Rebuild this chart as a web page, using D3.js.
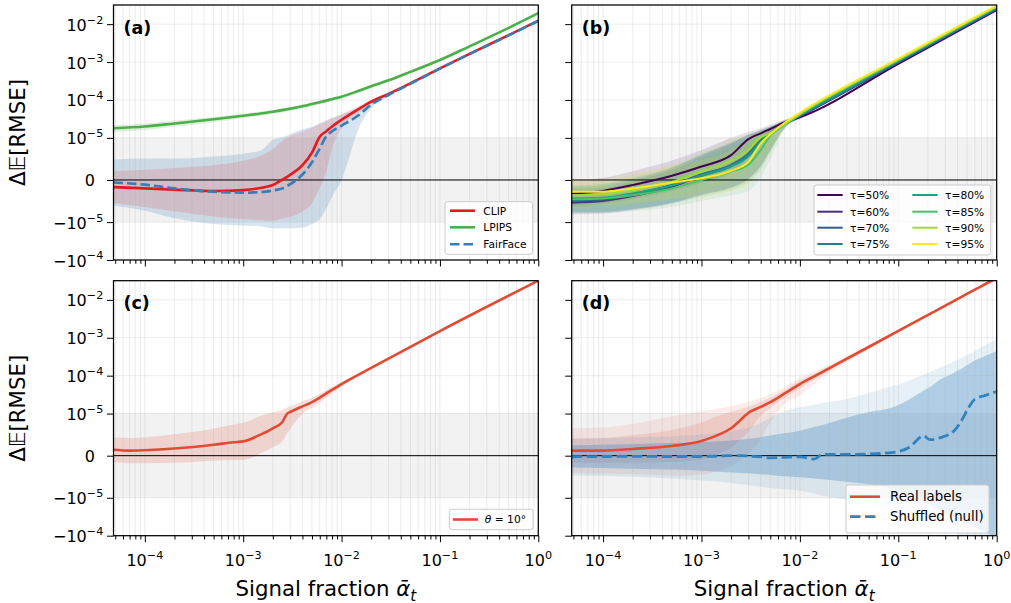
<!DOCTYPE html>
<html>
<head>
<meta charset="utf-8">
<script src="https://cdn.jsdelivr.net/npm/d3@7"></script>
<style>
  body { margin: 0; background: #fff; }
  svg text { font-family: "DejaVu Sans", sans-serif; fill: #000; }
</style>
</head>
<body>
<script>
// ---------- data ----------
var xDomain = [4.8e-5, 1];
var yDomain = [-1e-4, 3.2e-2];
var yTicks = [1e-2, 1e-3, 1e-4, 1e-5, 0, -1e-5, -1e-4];
var xMajorTicks = [1e-4, 1e-3, 1e-2, 1e-1, 1];

// (a) embedding models
var xsA = [4.8e-5, 1e-4, 2e-4, 5e-4, 1e-3, 1.5e-3, 2e-3, 2.5e-3, 3e-3, 4e-3, 5e-3, 6e-3, 7e-3, 8e-3, 1e-2, 1.5e-2, 2e-2, 3e-2, 5e-2, 0.1, 0.2, 0.5, 1];
var clipMean = [-1.7e-6, -2.0e-6, -2.3e-6, -2.6e-6, -2.4e-6, -1.9e-6, -1.2e-6, 1e-7, 1.2e-6, 3.5e-6, 6.5e-6, 1.07e-5, 1.5e-5, 2.0e-5, 3.0e-5, 5.8e-5, 9.0e-5, 1.45e-4, 2.75e-4, 6.8e-4, 1.65e-3, 5.15e-3, 1.23e-2];
var clipSd = [3.75e-6, 4.4e-6, 5.15e-6, 6.1e-6, 6.95e-6, 7.65e-6, 8.5e-6, 9.25e-6, 1.0e-5, 1.1e-5, 1.2e-5, 1.25e-5, 1.3e-5, 1.25e-5, 1.2e-5, 1.2e-5, 1.0e-5, 1.2e-5, 1.5e-5, 2.5e-5, 5.5e-5, 1.5e-4, 4e-4];
var lpipsMean = [1.8e-5, 2.0e-5, 2.4e-5, 3.1e-5, 3.85e-5, 4.4e-5, 4.9e-5, 5.4e-5, 5.9e-5, 6.8e-5, 7.8e-5, 8.7e-5, 9.6e-5, 1.05e-4, 1.22e-4, 1.75e-4, 2.3e-4, 3.3e-4, 5.5e-4, 1.13e-3, 2.6e-3, 8.0e-3, 1.95e-2];
var lpipsSd = [3.7e-6, 4e-6, 4.5e-6, 5e-6, 5.5e-6, 6e-6, 6.5e-6, 7e-6, 7.5e-6, 8.5e-6, 9.5e-6, 1.05e-5, 1.15e-5, 1.25e-5, 1.4e-5, 1.8e-5, 2.2e-5, 2.8e-5, 4e-5, 6e-5, 1e-4, 2e-4, 4e-4];
var fairMean = [-6e-7, -1.1e-6, -2.0e-6, -2.8e-6, -3.0e-6, -2.9e-6, -2.5e-6, -2.0e-6, -1.0e-6, 1.3e-6, 4.2e-6, 7.5e-6, 1.1e-5, 1.5e-5, 2.1e-5, 4.0e-5, 7.5e-5, 1.35e-4, 2.65e-4, 6.7e-4, 1.62e-3, 5.05e-3, 1.21e-2];
var fairSd = [5.45e-6, 6.2e-6, 7.1e-6, 8.4e-6, 9.25e-6, 9.9e-6, 1.2e-5, 1.25e-5, 1.35e-5, 1.55e-5, 1.55e-5, 1.68e-5, 1.78e-5, 1.9e-5, 2.1e-5, 2.2e-5, 1.5e-5, 1.2e-5, 1.5e-5, 3e-5, 7e-5, 2e-4, 5e-4];

// (b) threshold sweep
var xsB = [4.8e-5, 1e-4, 2e-4, 5e-4, 1e-3, 2e-3, 3e-3, 4e-3, 5e-3, 7e-3, 1e-2, 0.1, 1];
var tauLabels = ["τ=50%", "τ=60%", "τ=70%", "τ=75%", "τ=80%", "τ=85%", "τ=90%", "τ=95%"];
var tau50Mean = [-3.2e-6, -2.6e-6, -1.2e-6, 1.0e-6, 3.2e-6, 5.9e-6, 9.7e-6, 1.32e-5, 1.71e-5, 2.6e-5, 3.5e-5, 9.0e-4, 2.35e-2];
var tau60Mean = [-5.4e-6, -5.0e-6, -3.8e-6, -1.6e-6, 1.0e-6, 3.4e-6, 6.0e-6, 9.5e-6, 1.3e-5, 2.3e-5, 3.7e-5, 9.6e-4, 2.45e-2];
var tau70Mean = [-5.0e-6, -4.7e-6, -3.5e-6, -1.3e-6, 1.3e-6, 3.6e-6, 6.3e-6, 9.8e-6, 1.35e-5, 2.35e-5, 3.8e-5, 1.0e-3, 2.55e-2];
var tau75Mean = [-4.7e-6, -4.4e-6, -3.3e-6, -1.2e-6, 1.3e-6, 3.5e-6, 6.2e-6, 9.6e-6, 1.35e-5, 2.4e-5, 3.9e-5, 1.04e-3, 2.65e-2];
var tau80Mean = [-4.4e-6, -4.2e-6, -3.2e-6, -1.3e-6, 1.0e-6, 3.2e-6, 5.6e-6, 9.0e-6, 1.3e-5, 2.35e-5, 4.0e-5, 1.08e-3, 2.75e-2];
var tau85Mean = [-4.6e-6, -4.4e-6, -3.6e-6, -2.0e-6, 0, 2.0e-6, 3.6e-6, 7.1e-6, 1.15e-5, 2.2e-5, 4.1e-5, 1.12e-3, 2.85e-2];
var tau90Mean = [-3.6e-6, -3.4e-6, -2.4e-6, -5e-7, 2.0e-6, 4.6e-6, 7.1e-6, 1.02e-5, 1.35e-5, 2.3e-5, 4.3e-5, 1.18e-3, 2.95e-2];
var tau95Mean = [-2.8e-6, -2.8e-6, -2.0e-6, -6e-7, 4e-7, 2.2e-6, 4.3e-6, 8.7e-6, 1.25e-5, 2.5e-5, 4.6e-5, 1.24e-3, 3.1e-2];
var tau50Sd = [3.0e-6, 3.1e-6, 3.3e-6, 3.6e-6, 3.9e-6, 4.2e-6, 4.5e-6, 4.8e-6, 5.0e-6, 4.5e-6, 4e-6, 3e-5, 5e-4];
var tau60Sd = [2.8e-6, 3.0e-6, 3.4e-6, 4.0e-6, 4.6e-6, 5.2e-6, 5.8e-6, 6.2e-6, 6.2e-6, 5.0e-6, 4e-6, 3e-5, 5e-4];
var tau70Sd = [2.9e-6, 3.1e-6, 3.5e-6, 4.1e-6, 4.7e-6, 5.3e-6, 5.9e-6, 6.3e-6, 6.3e-6, 5.2e-6, 4e-6, 3e-5, 5e-4];
var tau75Sd = [3.0e-6, 3.2e-6, 3.6e-6, 4.2e-6, 4.8e-6, 5.4e-6, 6.0e-6, 6.4e-6, 6.4e-6, 5.2e-6, 4e-6, 3e-5, 5e-4];
var tau80Sd = [3.1e-6, 3.3e-6, 3.7e-6, 4.3e-6, 4.9e-6, 5.5e-6, 6.1e-6, 6.5e-6, 6.5e-6, 5.3e-6, 4e-6, 3e-5, 5e-4];
var tau85Sd = [3.2e-6, 3.4e-6, 3.8e-6, 4.4e-6, 5.0e-6, 5.6e-6, 6.2e-6, 6.6e-6, 6.6e-6, 5.4e-6, 4e-6, 3e-5, 5e-4];
var tau90Sd = [3.1e-6, 3.3e-6, 3.6e-6, 4.1e-6, 4.6e-6, 5.1e-6, 5.6e-6, 6.0e-6, 6.0e-6, 5.0e-6, 4e-6, 3e-5, 5e-4];
var tau95Sd = [3.0e-6, 3.2e-6, 3.5e-6, 3.9e-6, 4.4e-6, 4.9e-6, 5.4e-6, 5.8e-6, 5.8e-6, 4.8e-6, 4e-6, 3e-5, 5e-4];

// (c) theta = 10 deg
var xsC = [4.8e-5, 7e-5, 1e-4, 2e-4, 5e-4, 8e-4, 1e-3, 1.5e-3, 2e-3, 2.5e-3, 2.8e-3, 3e-3, 4e-3, 5e-3, 7e-3, 1e-2, 2e-2, 0.1, 1];
var thetaMean = [1.4e-6, 1.2e-6, 1.3e-6, 1.7e-6, 2.6e-6, 3.2e-6, 3.4e-6, 5.0e-6, 6.5e-6, 8.0e-6, 1.0e-5, 1.1e-5, 1.55e-5, 2.0e-5, 3.4e-5, 6.0e-5, 1.6e-4, 1.5e-3, 3.2e-2];
var thetaSd = [2.9e-6, 3.0e-6, 3.1e-6, 3.4e-6, 3.8e-6, 4.2e-6, 4.4e-6, 4.4e-6, 4.5e-6, 4.6e-6, 4.7e-6, 4.7e-6, 5.5e-6, 6e-6, 8e-6, 8e-6, 1e-5, 5e-5, 5e-4];

// (d) real vs shuffled labels
var xsD = [4.8e-5, 1e-4, 2e-4, 5e-4, 1e-3, 1.5e-3, 2e-3, 2.5e-3, 3e-3, 4e-3, 5e-3, 7e-3, 1e-2, 1.4e-2, 1.7e-2, 2.5e-2, 5e-2, 9e-2, 0.13, 0.18, 0.21, 0.27, 0.37, 0.43, 0.52, 0.6, 0.76, 1];
var realMean = [1.2e-6, 1.2e-6, 1.6e-6, 2.3e-6, 3.5e-6, 5.0e-6, 6.5e-6, 8.5e-6, 1.05e-5, 1.5e-5, 2.0e-5, 3.4e-5, 6.0e-5, 9.6e-5, 1.26e-4, 2.16e-4, 5.7e-4, 1.3e-3, 2.18e-3, 3.43e-3, 4.25e-3, 6.05e-3, 9.4e-3, 1.16e-2, 1.52e-2, 1.85e-2, 2.58e-2, 3.79e-2];
var realSdInner = [2.9e-6, 3.0e-6, 3.3e-6, 3.8e-6, 4.4e-6, 4.5e-6, 4.6e-6, 4.7e-6, 4.8e-6, 5.5e-6, 6e-6, 8e-6, 1.5e-5, 1.7e-5, 2e-5, 2.5e-5, 4e-5, 7e-5, 1e-4, 1.4e-4, 1.7e-4, 2.2e-4, 3.2e-4, 4e-4, 5e-4, 6e-4, 8e-4, 1.2e-3];
var realSdOuter = [5.3e-6, 5.5e-6, 6e-6, 7e-6, 8e-6, 8.5e-6, 9e-6, 9.5e-6, 1e-5, 1.1e-5, 1.2e-5, 1.6e-5, 3e-5, 3.5e-5, 4e-5, 5e-5, 8e-5, 1.4e-4, 2e-4, 2.8e-4, 3.4e-4, 4.4e-4, 6.4e-4, 8e-4, 1e-3, 1.2e-3, 1.6e-3, 2.4e-3];
var shufMean = [-2.5e-7, -2e-7, -1.5e-7, -2e-7, -2e-7, -1e-7, 0, 0, -1e-7, -3e-7, -5e-7, -4e-7, -3e-7, -8e-7, 3e-7, 3e-7, 4e-7, 8e-7, 2e-6, 4.7e-6, 3.8e-6, 4.3e-6, 5.9e-6, 8e-6, 1.45e-5, 2.4e-5, 3e-5, 3.8e-5];
var shufInnerHi = [2.5e-6, 2.6e-6, 2.8e-6, 3e-6, 3.2e-6, 3.4e-6, 3.6e-6, 3.8e-6, 4e-6, 4.4e-6, 4.8e-6, 5.3e-6, 5.9e-6, 6.8e-6, 7.3e-6, 8.5e-6, 1.1e-5, 1.5e-5, 2.4e-5, 4e-5, 5e-5, 8e-5, 1.2e-4, 1.5e-4, 2e-4, 2.5e-4, 3.3e-4, 4.5e-4];
var shufInnerLo = [-2.8e-6, -2.9e-6, -3.1e-6, -3.3e-6, -3.6e-6, -3.8e-6, -4e-6, -4.1e-6, -4.2e-6, -4.4e-6, -4.6e-6, -4.9e-6, -5.1e-6, -5.4e-6, -5.6e-6, -6e-6, -6.8e-6, -8e-6, -1e-5, -1.3e-5, -1.5e-5, -2.2e-5, -3.2e-5, -4e-5, -5e-5, -6e-5, -8e-5, -1.2e-4];
var shufOuterHi = [4e-6, 4.1e-6, 4.3e-6, 4.6e-6, 5e-6, 5.4e-6, 5.8e-6, 6.3e-6, 6.7e-6, 7.8e-6, 9e-6, 1.15e-5, 1.46e-5, 1.7e-5, 1.9e-5, 2.2e-5, 3.5e-5, 5.5e-5, 7.5e-5, 1.05e-4, 1.25e-4, 1.65e-4, 2.4e-4, 2.9e-4, 3.6e-4, 4.5e-4, 6.3e-4, 9.2e-4];
var shufOuterLo = [-4.7e-6, -4.8e-6, -5e-6, -5.4e-6, -5.9e-6, -6.2e-6, -6.5e-6, -6.8e-6, -7e-6, -7.4e-6, -7.7e-6, -8e-6, -8.3e-6, -9e-6, -9.5e-6, -1.05e-5, -1.4e-5, -2e-5, -2.8e-5, -4e-5, -4.8e-5, -6e-5, -8e-5, -1e-4, -1.2e-4, -1.5e-4, -2e-4, -2.5e-4];

// ---------- layout ----------
var W = 1011, H = 603;
var boxes = {
  a: {left: 113.5, right: 538.3, top: 5, bottom: 260},
  b: {left: 571.7, right: 996.7, top: 5, bottom: 260},
  c: {left: 113.5, right: 538.3, top: 280.7, bottom: 535.7},
  d: {left: 571.7, right: 996.7, top: 280.7, bottom: 535.7}
};

var LINTHRESH = 1e-5;
// matplotlib style symlog (linscale 1, base 10)
function symlog(v) {
  var a = Math.abs(v), adj = 1 / (1 - 1 / 10);
  if (a <= LINTHRESH) return v / LINTHRESH * adj;
  return Math.sign(v) * (adj + Math.log10(a / LINTHRESH));
}
function isMajor(t) {
  var l = Math.log10(t);
  return Math.abs(l - Math.round(l)) < 1e-9;
}

var svg = d3.select("body").append("svg").attr("width", W).attr("height", H);

function makePanel(key) {
  var b = boxes[key];
  var x = d3.scaleLog().domain(xDomain).range([b.left, b.right]);
  var ys = d3.scaleLinear().domain([symlog(yDomain[0]), symlog(yDomain[1])]).range([b.bottom, b.top]);
  var y = function (v) { return ys(symlog(v)); };
  var g = svg.append("g");
  g.append("clipPath").attr("id", "clip-" + key).append("rect")
    .attr("x", b.left).attr("y", b.top).attr("width", b.right - b.left).attr("height", b.bottom - b.top);
  var inner = g.append("g").attr("clip-path", "url(#clip-" + key + ")");

  // grey region |dE| < linthresh
  inner.append("rect")
    .attr("x", b.left).attr("width", b.right - b.left)
    .attr("y", y(1e-5)).attr("height", y(-1e-5) - y(1e-5))
    .attr("fill", "#808080").attr("fill-opacity", 0.1);

  var bands = inner.append("g");
  var grid = inner.append("g");
  var lines = inner.append("g");

  x.ticks().forEach(function (t) {
    grid.append("line").attr("x1", x(t)).attr("x2", x(t)).attr("y1", b.top).attr("y2", b.bottom)
      .attr("stroke", "#b0b0b0").attr("stroke-opacity", 0.3).attr("stroke-width", 0.8);
  });
  yTicks.forEach(function (t) {
    grid.append("line").attr("x1", b.left).attr("x2", b.right).attr("y1", y(t)).attr("y2", y(t))
      .attr("stroke", "#b0b0b0").attr("stroke-opacity", 0.3).attr("stroke-width", 0.8);
  });
  lines.append("line").attr("x1", b.left).attr("x2", b.right).attr("y1", y(0)).attr("y2", y(0))
    .attr("stroke", "#000").attr("stroke-width", 1);

  return {key: key, b: b, x: x, ys: ys, y: y, g: g, bands: bands, lines: lines};
}

function addBand(p, xs, lo, hi, color, alpha) {
  var area = d3.area().curve(d3.curveMonotoneX)
    .x(function (d) { return p.x(d[0]); })
    .y0(function (d) { return p.y(d[1]); })
    .y1(function (d) { return p.y(d[2]); });
  p.bands.append("path").datum(d3.zip(xs, lo, hi)).attr("d", area)
    .attr("fill", color).attr("fill-opacity", alpha).attr("stroke", "none");
}
function addSdBand(p, xs, mean, sd, color, alpha) {
  var lo = mean.map(function (m, i) { return m - sd[i]; });
  var hi = mean.map(function (m, i) { return m + sd[i]; });
  addBand(p, xs, lo, hi, color, alpha);
}
function addLine(p, xs, vals, color, width, dash) {
  var line = d3.line().curve(d3.curveMonotoneX)
    .x(function (d) { return p.x(d[0]); })
    .y(function (d) { return p.y(d[1]); });
  p.lines.append("path").datum(d3.zip(xs, vals)).attr("d", line)
    .attr("fill", "none").attr("stroke", color).attr("stroke-width", width)
    .attr("stroke-dasharray", dash || null).attr("stroke-linejoin", "round");
}

function powText(sel, prefix, exp, size) {
  sel.append("tspan").text(prefix + "10");
  sel.append("tspan").attr("dy", -0.44 * size).attr("font-size", size * 0.7).text(exp);
}

function drawAxes(p, showX, showY) {
  var b = p.b;
  var ticks = p.x.ticks();
  var majors = ticks.filter(isMajor);
  var minors = ticks.filter(function (t) { return !isMajor(t); });
  var gx = p.g.append("g").attr("transform", "translate(0," + b.bottom + ")");
  gx.append("g").call(d3.axisBottom(p.x).tickValues(minors).tickSize(3.8).tickFormat(""));
  gx.append("g").call(d3.axisBottom(p.x).tickValues(majors).tickSize(6.5).tickFormat(""));
  var gy = p.g.append("g").attr("transform", "translate(" + b.left + ",0)");
  gy.call(d3.axisLeft(p.ys).tickValues(yTicks.map(symlog)).tickSize(6.5).tickFormat(""));
  p.g.selectAll(".domain").remove();
  p.g.selectAll(".tick line").attr("stroke", "#000").attr("stroke-width", 1);

  if (showX) {
    xMajorTicks.forEach(function (t) {
      var e = Math.round(Math.log10(t));
      var txt = p.g.append("text").attr("x", p.x(t)).attr("y", b.bottom + 30.3)
        .attr("text-anchor", "middle").attr("font-size", 16);
      powText(txt, "", e < 0 ? "−" + (-e) : String(e), 16);
    });
    var xl = p.g.append("text").attr("x", (b.left + b.right) / 2).attr("y", 596)
      .attr("text-anchor", "middle").attr("font-size", 21.3);
    xl.append("tspan").text("Signal fraction ");
    xl.append("tspan").attr("font-style", "italic").text("α\u0304");
    xl.append("tspan").attr("font-style", "italic").attr("font-size", 15).attr("dy", 4.5).text("t");
  }
  if (showY) {
    yTicks.forEach(function (t) {
      var txt = p.g.append("text").attr("y", p.y(t) + 6.5).attr("text-anchor", "end").attr("font-size", 16);
      if (t === 0) {
        txt.attr("x", b.left - 18.5).text("0");
      } else {
        var e = Math.round(Math.log10(Math.abs(t)));
        txt.attr("x", b.left - 10.2);
        powText(txt, t < 0 ? "−" : "", "−" + (-e), 16);
      }
    });
    var yl = p.g.append("text")
      .attr("transform", "translate(25," + (b.top + b.bottom) / 2 + ") rotate(-90)")
      .attr("text-anchor", "middle").attr("font-size", 21.3);
    yl.append("tspan").text("Δ");
    yl.append("tspan").text("𝔼");
    yl.append("tspan").text("[RMSE]");
  }
  p.g.append("rect").attr("x", b.left).attr("y", b.top)
    .attr("width", b.right - b.left).attr("height", b.bottom - b.top)
    .attr("fill", "none").attr("stroke", "#000").attr("stroke-width", 1.25);
  p.g.append("text").attr("x", b.left + 10).attr("y", b.top + 28.5)
    .attr("font-size", 17.5).attr("font-weight", "bold").text("(" + p.key + ")");
}

function legendFrame(x0, y0, x1, y1) {
  svg.append("rect").attr("x", x0).attr("y", y0).attr("width", x1 - x0).attr("height", y1 - y0)
    .attr("rx", 2.5).attr("fill", "#fff").attr("fill-opacity", 0.8)
    .attr("stroke", "#cccccc").attr("stroke-width", 1);
}
function legendEntry(lx0, lx1, cy, tx, label, color, width, dash, size) {
  svg.append("line").attr("x1", lx0).attr("x2", lx1).attr("y1", cy).attr("y2", cy)
    .attr("stroke", color).attr("stroke-width", width).attr("stroke-dasharray", dash || null);
  var t = svg.append("text").attr("x", tx).attr("y", cy + size * 0.36).attr("font-size", size);
  if (typeof label === "string") t.text(label); else label(t);
}

// ---------- panel (a) ----------
var pa = makePanel("a");
var cClip = "#e41a1c", cLpips = "#4daf4a", cFair = "#377eb8";
addSdBand(pa, xsA, fairMean, fairSd, cFair, 0.2);
addSdBand(pa, xsA, clipMean, clipSd, cClip, 0.15);
addSdBand(pa, xsA, lpipsMean, lpipsSd, cLpips, 0.18);
addLine(pa, xsA, clipMean, cClip, 2.6);
addLine(pa, xsA, lpipsMean, cLpips, 2.6);
addLine(pa, xsA, fairMean, cFair, 2.6, "9.5,4");
drawAxes(pa, false, true);

// ---------- panel (b) ----------
var pb = makePanel("b");
var tauMeans = [tau50Mean, tau60Mean, tau70Mean, tau75Mean, tau80Mean, tau85Mean, tau90Mean, tau95Mean];
var tauSds = [tau50Sd, tau60Sd, tau70Sd, tau75Sd, tau80Sd, tau85Sd, tau90Sd, tau95Sd];
var tauColors = tauLabels.map(function (d, i) { return d3.interpolateViridis(i / (tauLabels.length - 1)); });
tauMeans.forEach(function (m, i) { addSdBand(pb, xsB, m, tauSds[i], tauColors[i], 0.12); });
tauMeans.forEach(function (m, i) { addLine(pb, xsB, m, tauColors[i], 2); });
drawAxes(pb, false, false);

// ---------- panel (c) ----------
var pc = makePanel("c");
var cReal = "#e34a33", cShuf = "#3182bd";
addSdBand(pc, xsC, thetaMean, thetaSd, cReal, 0.18);
addLine(pc, xsC, thetaMean, cReal, 2.6);
drawAxes(pc, true, true);

// ---------- panel (d) ----------
var pd = makePanel("d");
var realOuterLo = realMean.map(function (m, i) { return m - realSdOuter[i]; });
var realOuterHi = realMean.map(function (m, i) { return m + realSdOuter[i]; });
addBand(pd, xsD, realOuterLo, realOuterHi, cReal, 0.1);
addSdBand(pd, xsD, realMean, realSdInner, cReal, 0.15);
addBand(pd, xsD, shufOuterLo, shufOuterHi, cShuf, 0.12);
addBand(pd, xsD, shufInnerLo, shufInnerHi, cShuf, 0.3);
addLine(pd, xsD, realMean, cReal, 2.6);
addLine(pd, xsD, shufMean, cShuf, 2.8, "10.5,4.5");
drawAxes(pd, true, false);

// ---------- legends ----------
legendFrame(445, 201.7, 532.7, 254.3);
legendEntry(450, 475, 210.7, 483.3, "CLIP", cClip, 2.6, null, 10.7);
legendEntry(450, 475, 227.3, 483.3, "LPIPS", cLpips, 2.6, null, 10.7);
legendEntry(450, 475, 244.3, 483.3, "FairFace", cFair, 2.6, "9.5,4", 10.7);

legendFrame(814, 185, 990.7, 255);
var rowsB = [195, 211.7, 227.7, 244];
tauLabels.forEach(function (lab, i) {
  var col = Math.floor(i / 4), row = i % 4;
  var lx = col === 0 ? 817.3 : 912.3;
  legendEntry(lx, lx + 25.4, rowsB[row], lx + 32.7, lab, tauColors[i], 2, null, 10.7);
});

legendFrame(449.4, 509.3, 533, 529.7);
legendEntry(452.8, 478, 519.5, 484.8, function (t) {
  t.append("tspan").attr("font-style", "italic").text("θ");
  t.append("tspan").text(" = 10°");
}, cReal, 2.6, null, 10.7);

legendFrame(846, 485, 989, 533);
legendEntry(850, 880, 496.7, 890, "Real labels", cReal, 2.6, null, 13.3);
legendEntry(850, 880, 516.7, 890, "Shuffled (null)", cShuf, 2.8, "10.5,4.5", 13.3);
</script>
</body>
</html>
